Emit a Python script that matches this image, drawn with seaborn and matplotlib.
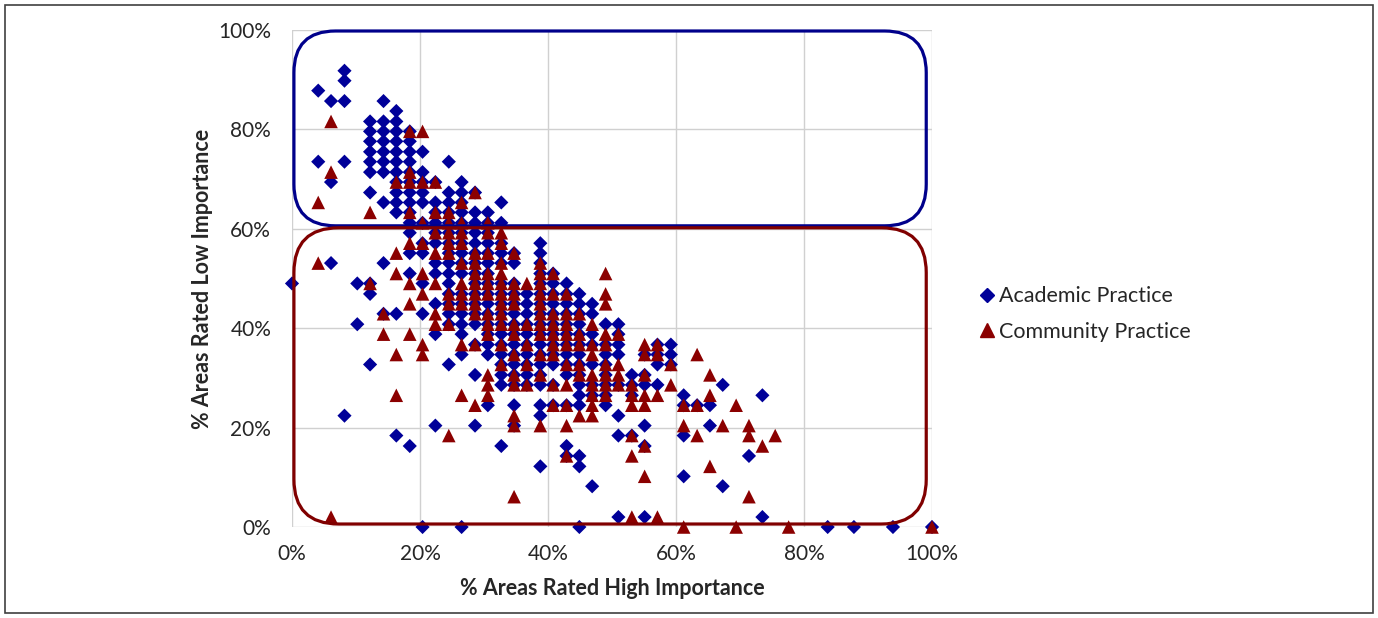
import matplotlib
matplotlib.use("Agg")
import matplotlib.pyplot as plt
import seaborn as sns
import pandas as pd
from matplotlib.patches import FancyBboxPatch, Rectangle
from matplotlib.lines import Line2D

# ---------------- data (percent) ----------------
academic_x = (
    [0.0]
    + [4.1] * 2
    + [6.1] * 3
    + [8.2] * 5
    + [10.2] * 2
    + [12.2] * 10
    + [14.3] * 10
    + [16.3] * 13
    + [18.4] * 14
    + [20.4] * 11
    + [22.4] * 11
    + [24.5] * 16
    + [26.5] * 17
    + [28.6] * 16
    + [30.6] * 16
    + [32.7] * 17
    + [34.7] * 15
    + [36.7] * 10
    + [38.8] * 18
    + [40.8] * 12
    + [42.9] * 13
    + [44.9] * 15
    + [46.9] * 8
    + [49.0] * 8
    + [51.0] * 8
    + [53.1] * 4
    + [55.1] * 6
    + [57.1] * 4
    + [59.2] * 3
    + [61.2] * 4
    + [63.3] * 1
    + [65.3] * 2
    + [67.3] * 2
    + [71.4] * 1
    + [73.5] * 2
    + [83.7, 87.8, 93.9, 100.0]
)
academic_y = [
    49.0,
    87.8, 73.5,
    85.7, 69.4, 53.1,
    91.8, 89.8, 85.7, 73.5, 22.4,
    49.0, 40.8,
    81.6, 79.6, 77.6, 75.5, 73.5, 71.4, 67.3, 49.0, 46.9, 32.7,
    85.7, 81.6, 79.6, 77.6, 75.5, 73.5, 71.4, 65.3, 53.1, 42.9,
    83.7, 81.6, 79.6, 77.6, 75.5, 73.5, 71.4, 69.4, 67.3, 65.3, 63.3, 42.9, 18.4,
    79.6, 77.6, 75.5, 73.5, 71.4, 69.4, 67.3, 65.3, 63.3, 61.2, 59.2, 55.1, 51.0, 16.3,
    75.5, 71.4, 69.4, 67.3, 65.3, 61.2, 57.1, 55.1, 49.0, 42.9, 0.0,
    69.4, 65.3, 63.3, 61.2, 59.2, 57.1, 53.1, 51.0, 44.9, 38.8, 20.4,
    73.5, 67.3, 65.3, 63.3, 61.2, 59.2, 57.1, 55.1, 53.1, 51.0, 49.0, 46.9, 44.9, 42.9, 40.8, 32.7,
    69.4, 67.3, 65.3, 63.3, 61.2, 59.2, 57.1, 55.1, 53.1, 51.0, 46.9, 44.9, 42.9, 40.8, 38.8, 34.7, 0.0,
    67.3, 63.3, 61.2, 59.2, 57.1, 55.1, 53.1, 51.0, 49.0, 46.9, 44.9, 42.9, 40.8, 36.7, 30.6, 20.4,
    63.3, 61.2, 59.2, 57.1, 55.1, 53.1, 51.0, 49.0, 46.9, 44.9, 42.9, 40.8, 38.8, 36.7, 34.7, 24.5,
    65.3, 61.2, 57.1, 55.1, 53.1, 49.0, 46.9, 44.9, 42.9, 40.8, 38.8, 36.7, 34.7, 32.7, 30.6, 28.6, 16.3,
    55.1, 53.1, 49.0, 46.9, 44.9, 42.9, 40.8, 38.8, 36.7, 34.7, 32.7, 30.6, 28.6, 24.5, 20.4,
    46.9, 44.9, 42.9, 40.8, 38.8, 36.7, 34.7, 32.7, 30.6, 28.6,
    57.1, 55.1, 53.1, 51.0, 49.0, 46.9, 44.9, 42.9, 40.8, 38.8, 36.7, 34.7, 32.7, 30.6, 28.6, 24.5, 22.4, 12.2,
    51.0, 49.0, 46.9, 44.9, 42.9, 40.8, 38.8, 36.7, 34.7, 32.7, 28.6, 24.5,
    49.0, 46.9, 44.9, 42.9, 40.8, 38.8, 36.7, 34.7, 32.7, 30.6, 24.5, 16.3, 14.3,
    46.9, 44.9, 42.9, 40.8, 38.8, 36.7, 34.7, 32.7, 30.6, 28.6, 26.5, 24.5, 14.3, 12.2, 0.0,
    44.9, 42.9, 38.8, 36.7, 32.7, 28.6, 26.5, 8.2,
    40.8, 36.7, 34.7, 32.7, 30.6, 28.6, 26.5, 24.5,
    40.8, 38.8, 36.7, 34.7, 28.6, 22.4, 18.4, 2.0,
    30.6, 28.6, 26.5, 18.4,
    34.7, 30.6, 28.6, 20.4, 16.3, 2.0,
    36.7, 34.7, 32.7, 28.6,
    36.7, 34.7, 32.7,
    26.5, 24.5, 18.4, 10.2,
    24.5,
    24.5, 20.4,
    28.6, 8.2,
    14.3,
    26.5, 2.0,
    0.0, 0.0, 0.0, 0.0,
]

community_x = (
    [4.1] * 2
    + [6.1] * 3
    + [12.2] * 2
    + [14.3] * 2
    + [16.3] * 5
    + [18.4] * 8
    + [20.4] * 8
    + [22.4] * 7
    + [24.5] * 9
    + [26.5] * 10
    + [28.6] * 10
    + [30.6] * 12
    + [32.7] * 11
    + [34.7] * 12
    + [36.7] * 5
    + [38.8] * 11
    + [40.8] * 9
    + [42.9] * 10
    + [44.9] * 6
    + [46.9] * 8
    + [49.0] * 9
    + [51.0] * 4
    + [53.1] * 6
    + [55.1] * 7
    + [57.1] * 4
    + [59.2] * 2
    + [61.2] * 3
    + [63.3] * 3
    + [65.3] * 3
    + [67.3] * 1
    + [69.4] * 2
    + [71.4] * 3
    + [73.5, 75.5, 77.6, 100.0]
)
community_y = [
    65.3, 53.1,
    81.6, 71.4, 2.0,
    63.3, 49.0,
    42.9, 38.8,
    69.4, 55.1, 51.0, 34.7, 26.5,
    79.6, 71.4, 69.4, 63.3, 57.1, 49.0, 44.9, 38.8,
    79.6, 69.4, 61.2, 57.1, 51.0, 46.9, 36.7, 34.7,
    69.4, 63.3, 59.2, 55.1, 49.0, 42.9, 40.8,
    63.3, 61.2, 59.2, 57.1, 55.1, 46.9, 44.9, 40.8, 18.4,
    65.3, 61.2, 59.2, 57.1, 53.1, 49.0, 46.9, 44.9, 36.7, 26.5,
    67.3, 55.1, 53.1, 51.0, 49.0, 46.9, 44.9, 42.9, 36.7, 24.5,
    61.2, 59.2, 55.1, 51.0, 49.0, 46.9, 42.9, 40.8, 38.8, 30.6, 28.6, 26.5,
    59.2, 57.1, 53.1, 51.0, 49.0, 46.9, 44.9, 42.9, 40.8, 36.7, 32.7,
    55.1, 49.0, 46.9, 44.9, 40.8, 38.8, 34.7, 30.6, 28.6, 22.4, 20.4, 6.1,
    49.0, 40.8, 36.7, 32.7, 28.6,
    53.1, 51.0, 49.0, 46.9, 44.9, 42.9, 40.8, 38.8, 34.7, 30.6, 20.4,
    51.0, 46.9, 42.9, 40.8, 38.8, 36.7, 34.7, 28.6, 24.5,
    46.9, 42.9, 40.8, 38.8, 36.7, 32.7, 28.6, 24.5, 20.4, 14.3,
    42.9, 38.8, 36.7, 32.7, 30.6, 22.4,
    40.8, 36.7, 34.7, 30.6, 28.6, 26.5, 24.5, 22.4,
    51.0, 46.9, 44.9, 38.8, 36.7, 32.7, 30.6, 28.6, 26.5,
    38.8, 32.7, 30.6, 28.6,
    28.6, 26.5, 24.5, 18.4, 14.3, 2.0,
    36.7, 34.7, 30.6, 26.5, 24.5, 16.3, 10.2,
    36.7, 34.7, 26.5, 2.0,
    32.7, 28.6,
    24.5, 20.4, 0.0,
    34.7, 24.5, 18.4,
    30.6, 26.5, 12.2,
    20.4,
    24.5, 0.0,
    20.4, 18.4, 6.1,
    16.3, 18.4, 0.0, 0.0,
]

series_names = ["Academic Practice", "Community Practice"]
tick_values = [0, 20, 40, 60, 80, 100]
tick_labels = ["0%", "20%", "40%", "60%", "80%", "100%"]
x_label = "% Areas Rated High Importance"
y_label = "% Areas Rated Low Importance"

# ---------------- style ----------------
sns.set_theme(style="white")
plt.rcParams["font.family"] = ["Lato", "DejaVu Sans"]

blue = "#000099"
red = "#8b0000"
blue_box = "#00008b"
red_box = "#800000"

fig = plt.figure(figsize=(13.78, 6.18), dpi=100)
W, H = 1378, 618
ax = fig.add_axes([292 / W, 1 - 527 / H, 640 / W, 497 / H])

df_a = pd.DataFrame({"x": academic_x, "y": academic_y})
df_c = pd.DataFrame({"x": community_x, "y": community_y})

sns.scatterplot(data=df_a, x="x", y="y", marker="D", s=52, color=blue,
                edgecolor="none", linewidth=0, ax=ax, zorder=3, clip_on=False,
                legend=False)
sns.scatterplot(data=df_c, x="x", y="y", marker="^", s=95, color=red,
                edgecolor="none", linewidth=0, ax=ax, zorder=3.1, clip_on=False,
                legend=False)

ax.set_xlim(0, 100)
ax.set_ylim(0, 100)
ax.set_xticks(tick_values)
ax.set_xticklabels(tick_labels)
ax.set_yticks(tick_values)
ax.set_yticklabels(tick_labels)
ax.tick_params(axis="both", length=0, labelsize=15, colors="#262626")
ax.tick_params(axis="x", pad=12)
ax.tick_params(axis="y", pad=15)
ax.grid(True, color="#d0d0d0", linewidth=1.0)
ax.set_axisbelow(True)
for sp in ax.spines.values():
    sp.set_visible(False)

ax.set_xlabel(x_label, fontsize=15.5, fontweight="bold", color="#262626", labelpad=10)
ax.set_ylabel(y_label, fontsize=15.5, fontweight="bold", color="#262626", labelpad=4)

# rounded region boxes
asp = (640 / 100) / (497 / 100)
box_top = FancyBboxPatch((0.3, 60.6), 98.8, 39.2,
                         boxstyle="round,pad=0,rounding_size=6.5",
                         mutation_aspect=asp, fill=False, edgecolor=blue_box,
                         linewidth=2.3, clip_on=False, zorder=4)
box_bot = FancyBboxPatch((0.3, 0.6), 98.8, 59.6,
                         boxstyle="round,pad=0,rounding_size=7",
                         mutation_aspect=asp, fill=False, edgecolor=red_box,
                         linewidth=2.3, clip_on=False, zorder=4)
ax.add_patch(box_top)
ax.add_patch(box_bot)

# legend
handles = [
    Line2D([], [], marker="D", linestyle="none", color=blue, markersize=7.5),
    Line2D([], [], marker="^", linestyle="none", color=red, markersize=10),
]
fig.legend(handles, series_names, loc="center left",
           bbox_to_anchor=(965 / W, 1 - 314 / H), frameon=False,
           fontsize=15.5, handletextpad=0.0, labelspacing=0.72,
           handlelength=1.2, borderaxespad=0)

# outer frame
fig.add_artist(Rectangle((5 / W, 5 / H), 1368 / W, 608 / H,
                         transform=fig.transFigure, fill=False,
                         edgecolor="#404040", linewidth=1.2))

fig.savefig("out.png", dpi=100)
